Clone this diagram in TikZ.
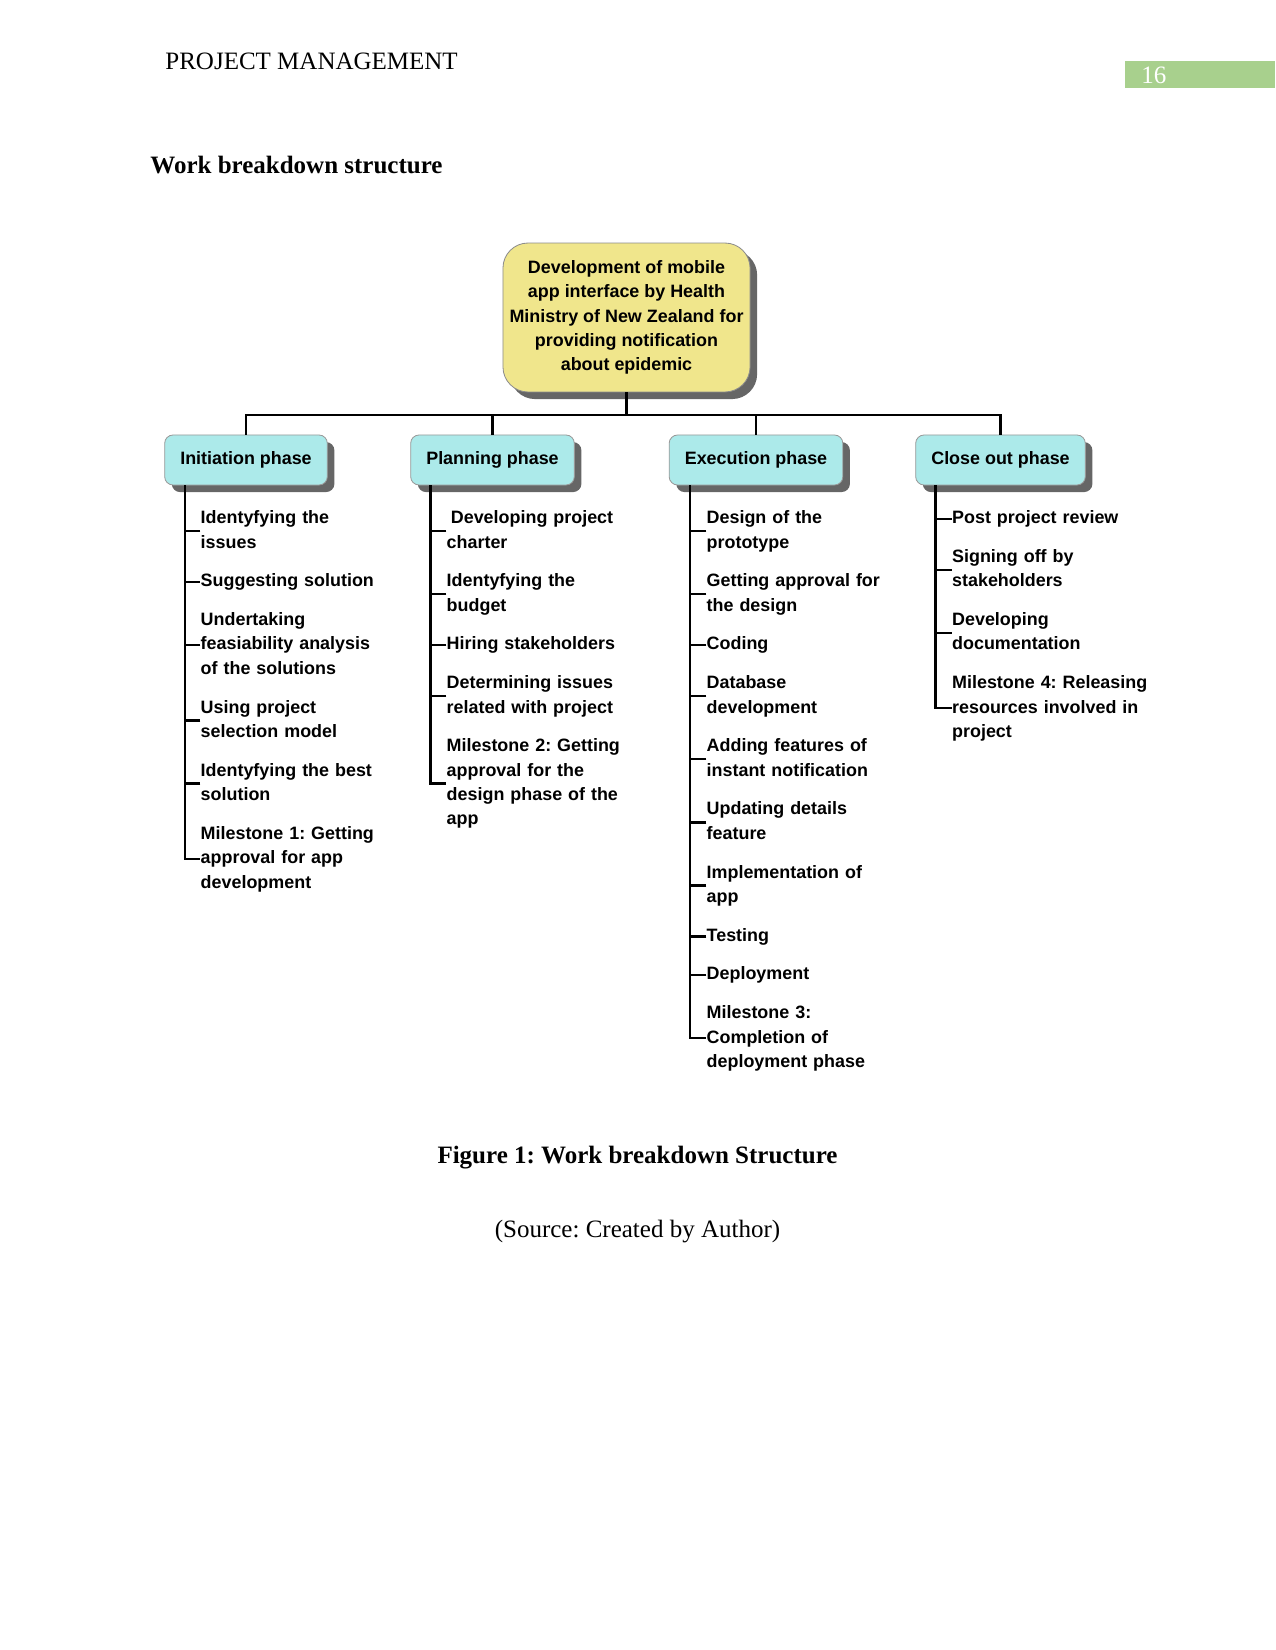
\documentclass[tikz,border=0pt]{standalone}
\usepackage{fontspec}
\setmainfont{Liberation Serif}
\setsansfont{Liberation Sans}
\usetikzlibrary{positioning,shadows}
\definecolor{rootfill}{RGB}{240,230,140}
\definecolor{phasefill}{RGB}{172,234,234}
\definecolor{pagegreen}{RGB}{168,208,141}
\frenchspacing

\begin{document}
\begin{tikzpicture}[x=0.48pt, y=-0.48pt,
  node distance=6.5pt,
  font=\sffamily\bfseries\fontsize{8.6}{11.6}\selectfont,
  dshadow/.style={drop shadow={shadow xshift=3.4pt, shadow yshift=-3.4pt,
                  fill=black!60, opacity=1}},
  rootbox/.style={dshadow, draw=black!45, fill=rootfill, rounded corners=12pt,
                  align=center, minimum width=118.6pt, minimum height=71.5pt,
                  inner sep=2pt},
  phase/.style={dshadow, draw=black!40, fill=phasefill, rounded corners=4pt,
                minimum height=24pt, inner xsep=7.5pt},
  item/.style={text width=115pt, align=left, inner sep=0pt,
               font=\sffamily\bfseries\fontsize{8.6}{11.7}\selectfont,
               execute at begin node=\strut, execute at end node=\strut},
  conn/.style={line width=1.2pt},
  pagetext/.style={font=\rmfamily\fontsize{12}{14}\selectfont, inner sep=0pt}
]
  \useasboundingbox (0,0) rectangle (1275,1650);

  % page header and title
  \node[pagetext, anchor=west] (head) at (165,61) {PROJECT MANAGEMENT};
  \fill[pagegreen] (1125,61) rectangle (1275,88);
  \node[pagetext, anchor=west, text=white] (pagenum) at (1141,75) {16};
  \node[pagetext, anchor=west, font=\rmfamily\bfseries\fontsize{12}{14}\selectfont]
    (title) at (150,165) {Work breakdown structure};

  % top level
  \node[rootbox] (root) at (626.5,317.5) {Development of mobile\\app interface by Health\\
    Ministry of New Zealand for\\providing notification\\about epidemic};
  \node[phase] (ini) at (246,460) {Initiation phase};
  \node[phase] (pla) at (492.5,460) {Planning phase};
  \node[phase] (exe) at (756,460) {Execution phase};
  \node[phase] (clo) at (1000.5,460) {Close out phase};

  \draw[conn] (root.south) -- ++(0,-10.8pt) coordinate (bus);
  \draw[conn] (ini.north) |- (bus) -| (clo.north);
  \draw[conn] (pla.north) -- (pla.north |- bus);
  \draw[conn] (exe.north) -- (exe.north |- bus);

  % initiation
  \node[item, below=10pt of ini.south west, anchor=north west, xshift=17.3pt] (i1)
    {Identyfying the\\issues};
  \node[item, below=of i1] (i2) {Suggesting solution};
  \node[item, below=of i2] (i3) {Undertaking\\feasiability analysis\\of the solutions};
  \node[item, below=of i3] (i4) {Using project\\selection model};
  \node[item, below=of i4] (i5) {Identyfying the best\\solution};
  \node[item, below=of i5] (i6) {Milestone 1: Getting\\approval for app\\development};
  \coordinate (ispine) at ([xshift=10pt]ini.south west);
  \draw[conn] (ispine) |- (i6.west);
  \foreach \n in {i1,i2,i3,i4,i5}
    \draw[conn] (\n.west) -- (\n.west -| ispine);

  % planning
  \node[item, below=10pt of pla.south west, anchor=north west, xshift=17.3pt] (p1)
    {\hspace*{2pt}Developing project\\charter};
  \node[item, below=of p1] (p2) {Identyfying the\\budget};
  \node[item, below=of p2] (p3) {Hiring stakeholders};
  \node[item, below=of p3] (p4) {Determining issues\\related with project};
  \node[item, below=of p4] (p5) {Milestone 2: Getting\\approval for the\\design phase of the\\app};
  \coordinate (pspine) at ([xshift=9.6pt]pla.south west);
  \draw[conn] (pspine) |- (p5.west);
  \foreach \n in {p1,p2,p3,p4}
    \draw[conn] (\n.west) -- (\n.west -| pspine);

  % execution
  \node[item, below=10pt of exe.south west, anchor=north west, xshift=18pt] (e1)
    {Design of the\\prototype};
  \node[item, below=of e1] (e2) {Getting approval for\\the design};
  \node[item, below=of e2] (e3) {Coding};
  \node[item, below=of e3] (e4) {Database\\development};
  \node[item, below=of e4] (e5) {Adding features of\\instant notification};
  \node[item, below=of e5] (e6) {Updating details\\feature};
  \node[item, below=of e6] (e7) {Implementation of\\app};
  \node[item, below=of e7] (e8) {Testing};
  \node[item, below=of e8] (e9) {Deployment};
  \node[item, below=of e9] (e10) {Milestone 3:\\Completion of\\deployment phase};
  \coordinate (espine) at ([xshift=10.2pt]exe.south west);
  \draw[conn] (espine) |- (e10.west);
  \foreach \n in {e1,e2,e3,e4,e5,e6,e7,e8,e9}
    \draw[conn] (\n.west) -- (\n.west -| espine);

  % close out
  \node[item, below=10pt of clo.south west, anchor=north west, xshift=17.5pt] (c1)
    {Post project review};
  \node[item, below=of c1] (c2) {Signing off by\\stakeholders};
  \node[item, below=of c2] (c3) {Developing\\documentation};
  \node[item, below=of c3] (c4) {Milestone 4: Releasing\\resources involved in\\project};
  \coordinate (cspine) at ([xshift=9.6pt]clo.south west);
  \draw[conn] (cspine) |- (c4.west);
  \foreach \n in {c1,c2,c3}
    \draw[conn] (\n.west) -- (\n.west -| cspine);

  % caption
  \node[pagetext, font=\rmfamily\bfseries\fontsize{12}{14}\selectfont] (cap)
    at (637.5,1158) {Figure 1: Work breakdown Structure};
  \node[pagetext] (src) at (637.5,1232) {(Source: Created by Author)};
\end{tikzpicture}
\end{document}
